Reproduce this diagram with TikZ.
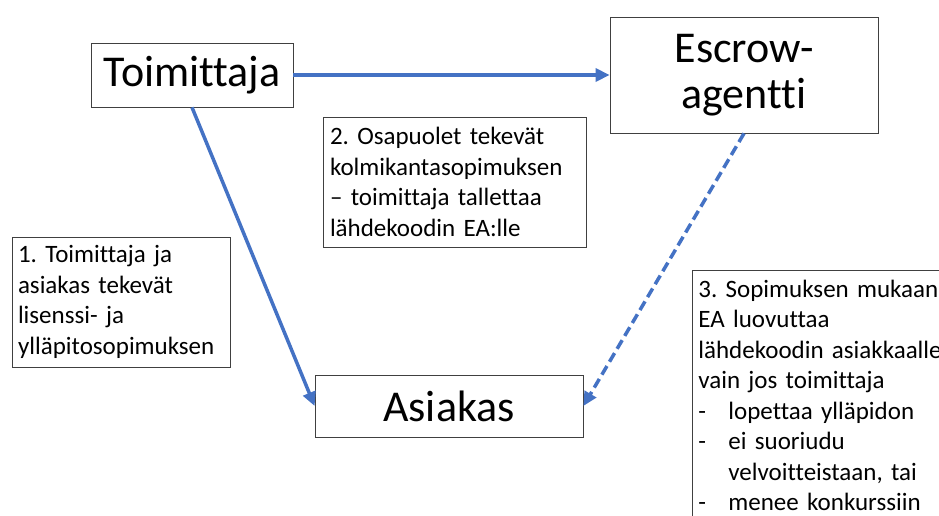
\documentclass[tikz,border=0pt]{standalone}
\usepackage{fontspec}
\setmainfont{Carlito}[Ligatures=NoCommon]
\usepackage{tikz}
\usetikzlibrary{arrows.meta}
\definecolor{flowblue}{HTML}{4472C4}
\tikzset{
  party/.style={draw=black!75, line width=0.8pt, fill=white, inner sep=0pt, align=center, font=\fontsize{44}{46}\selectfont},
  note/.style={draw=black!75, line width=0.8pt, fill=white, inner xsep=6pt, inner ysep=0pt, align=left, font=\fontsize{25}{30.5}\selectfont},
  flow/.style={draw=flowblue, line width=3.5pt, -{Triangle[length=14pt,width=13pt]}}
}
\newcommand{\dashitem}[1]{\makebox[30pt][l]{-}#1}
\frenchspacing

\begin{document}
\begin{tikzpicture}[x=1pt, y=-1pt]
        \clip (0,0) rectangle (939,515);
        % parties
        \node[party, minimum width=202pt, minimum height=64pt] (toim) at (192,75) {Toimittaja};
        \node[party, minimum width=268pt, minimum height=116pt] (escrow) at (744,75) {Escrow-\\agentti};
        \node[party, minimum width=268pt, minimum height=62pt] (asiakas) at (449,406) {Asiakas};

        % notes
        \node[note, minimum width=218pt, minimum height=130pt, text width=206pt] (note1) at (121,302)
            {1. Toimittaja ja\\asiakas tekevät\\lisenssi- ja\\ylläpitosopimuksen};
        \node[note, inner xsep=7pt, minimum width=263pt, minimum height=130pt, text width=249pt] (note2) at (454.5,182)
            {2. Osapuolet tekevät\\kolmikantasopimuksen\\– toimittaja tallettaa\\lähdekoodin EA:lle};
        \node[note, anchor=north west, minimum height=250pt, text width=262pt] (note3) at (692,270)
            {3. Sopimuksen mukaan\\EA luovuttaa\\lähdekoodin asiakkaalle\\vain jos toimittaja\\
             \dashitem{lopettaa ylläpidon}\\\dashitem{ei suoriudu}\\\hspace*{30pt}velvoitteistaan, tai\\
             \dashitem{menee konkurssiin}};

        % flows
        \draw[flow] (toim) -- (escrow);
        \draw[flow] (toim.south) -- (asiakas.west);
        \draw[flow, dash pattern=on 10pt off 5pt] (escrow.south) -- (asiakas.east);
\end{tikzpicture}
\end{document}
